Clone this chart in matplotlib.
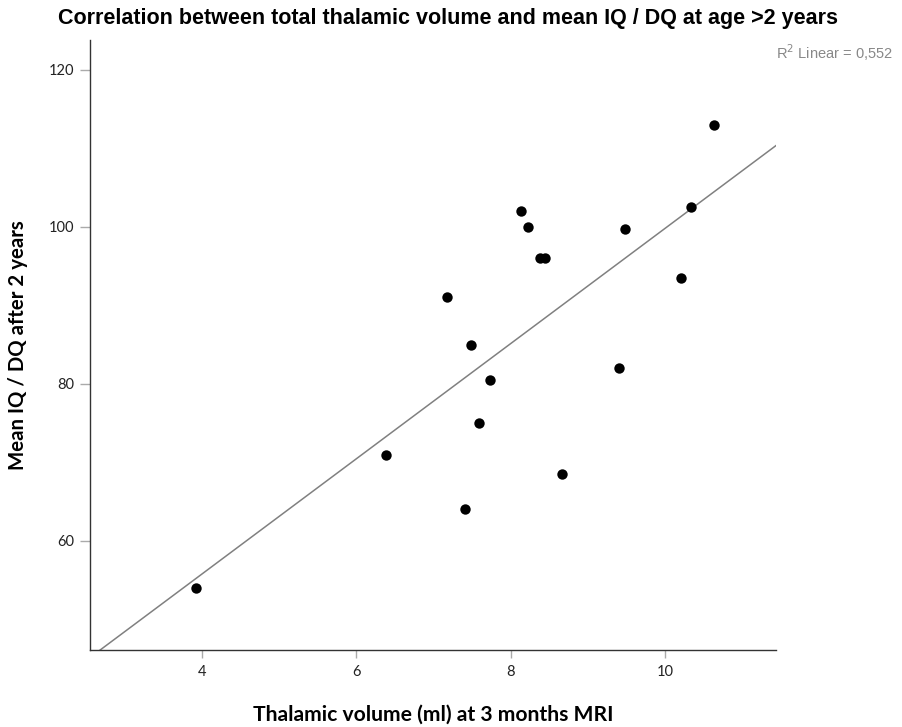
import numpy as np
import matplotlib
matplotlib.use('Agg')
import matplotlib.pyplot as plt

# Datos
thalamic_vol = [3.92, 6.39, 7.18, 7.41, 7.49, 7.59, 7.74, 8.13, 8.22, 8.38, 8.45, 8.67, 9.40, 9.48, 10.21, 10.34, 10.64]
mean_iq = [54.0, 71.0, 91.0, 64.0, 85.0, 75.0, 80.5, 102.0, 100.0, 96.0, 96.0, 68.5, 82.0, 99.7, 93.5, 102.5, 113.0]
x_ticks = [4, 6, 8, 10]
y_ticks = [60, 80, 100, 120]
r2_text = 'R$^2$ Linear = 0,552'

fig = plt.figure(figsize=(9.02, 7.27), dpi=100)
ax = fig.add_axes([0.0998, 0.1059, 0.7605, 0.8391])

ax.scatter(thalamic_vol, mean_iq, s=56, color='black', zorder=3, linewidths=0)

# Recta de regresion lineal
xlim = (2.55, 11.44)
ylim = (46.1, 123.8)
m, b = np.polyfit(thalamic_vol, mean_iq, 1)
xx = np.array(xlim)
ax.plot(xx, m * xx + b, color='#808080', lw=1.1, zorder=2)

ax.set_xlim(xlim)
ax.set_ylim(ylim)
ax.set_xticks(x_ticks)
ax.set_yticks(y_ticks)

for s in ['top', 'right']:
    ax.spines[s].set_visible(False)
for s in ['left', 'bottom']:
    ax.spines[s].set_color('#333333')
    ax.spines[s].set_linewidth(1.0)

ax.tick_params(axis='both', width=1, color='#aaaaaa', labelsize=10.5, labelcolor='#222222')
ax.tick_params(axis='x', length=6, pad=5)
ax.tick_params(axis='y', length=7, pad=4)
for lab in ax.get_xticklabels() + ax.get_yticklabels():
    lab.set_family('Lato')

# Etiquetas de ejes como texto de figura
fig.text(0.48, 1 - 715 / 727, 'Thalamic volume (ml) at 3 months MRI', ha='center', va='center',
         fontsize=15.2, fontweight='bold', family='Lato')
fig.text(18 / 902, 1 - 345 / 727, 'Mean IQ / DQ after 2 years', ha='center', va='center',
         rotation=90, fontsize=14.7, fontweight='bold', family='Lato')

fig.text(0.497, 0.975, 'Correlation between total thalamic volume and mean IQ / DQ at age >2 years',
         ha='center', va='center', fontsize=15.5, fontweight='bold', family='Liberation Sans')
fig.text(0.99, 0.928, r2_text, ha='right', va='center', fontsize=10.5,
         color='#888888', family='Liberation Sans')

plt.savefig('out.png', dpi=100)
